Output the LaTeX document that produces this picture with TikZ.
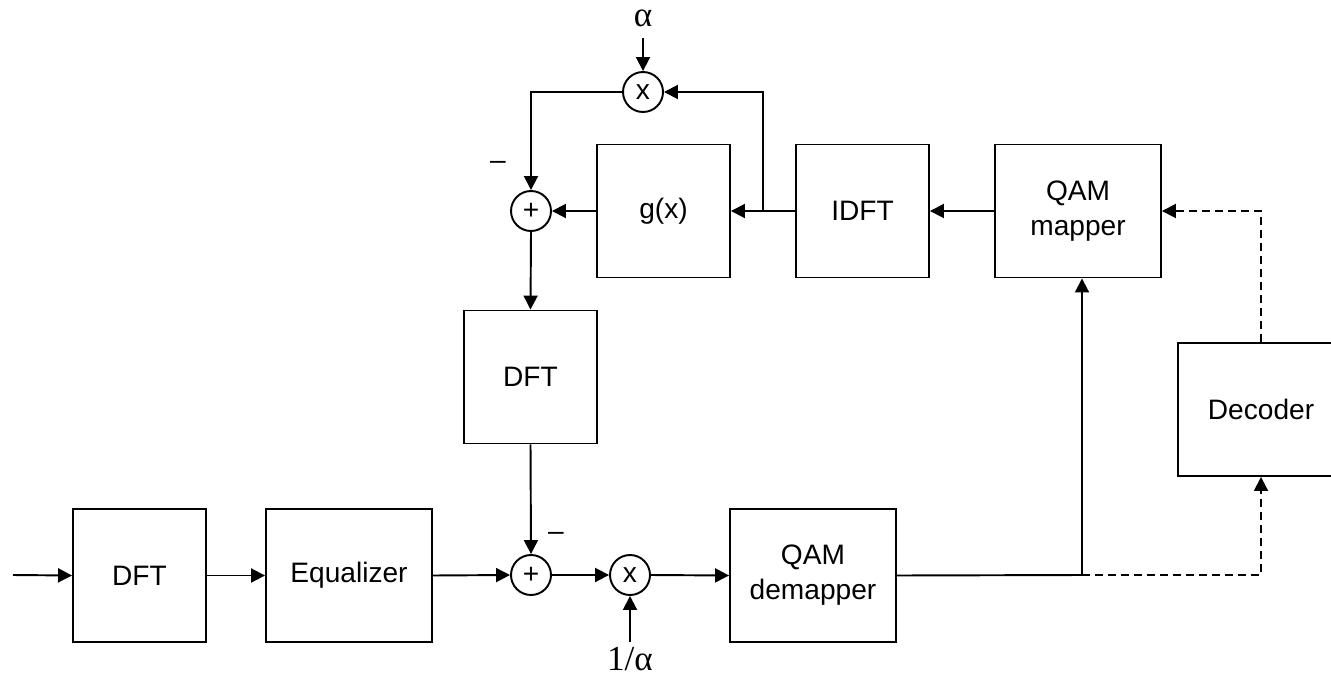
\documentclass[tikz,border=0pt]{standalone}
\usepackage{fontspec}
\setmainfont{Liberation Sans}
\newfontfamily\greekfont{Liberation Serif}
\usepackage{tikz}
\usetikzlibrary{arrows.meta}

\tikzset{
    blk/.style={draw, line width=1.1pt, minimum width=2.66cm, minimum height=2.66cm,
        inner sep=0pt, align=center, font=\fontsize{16}{20}\selectfont},
    wideblk/.style={blk, minimum width=3.32cm},
    junc/.style={draw, circle, line width=1.1pt, minimum size=0.8cm, inner sep=0pt,
        font=\fontsize{16}{19}\selectfont},
    wire/.style={line width=1.1pt, -{Triangle[length=0.28cm,width=0.28cm]}},
    dwire/.style={wire, dash pattern=on 0.16cm off 0.1cm},
    lbl/.style={inner sep=0pt, font=\greekfont\fontsize{20}{22}\selectfont}
}

\begin{document}
\begin{tikzpicture}[x=0.02cm, y=-0.02cm]
        \useasboundingbox (0,0) rectangle (1331,679);

        % Blocchi
        \node[blk] (dft1) at (139.5,575.5) {DFT};
        \node[wideblk] (eq) at (349,575.5) {Equalizer};
        \node[wideblk] (demap) at (813,575.5) {QAM\\demapper};
        \node[blk] (dft2) at (530.5,377) {DFT};
        \node[blk] (gx) at (663.5,211) {g(x)};
        \node[blk] (idft) at (862.5,211) {IDFT};
        \node[wideblk] (map) at (1078,211) {QAM\\mapper};
        \node[wideblk] (dec) at (1261,409.5) {Decoder};

        % Sommatori e moltiplicatori
        \node[junc] (sum1) at (531,575) {+};
        \node[junc] (mul1) at (630,575) {x};
        \node[junc] (sum2) at (531,211) {+};
        \node[junc] (mul2) at (643,92) {x};

        % Etichette
        \node[lbl] (alpha) at (643,18) {α};
        \node[lbl] (inva) at (630,659) {1/α};
        \node[font=\fontsize{16}{19}\selectfont] (m1) at (556,536) {–};
        \node[font=\fontsize{16}{19}\selectfont] (m2) at (498,165) {–};

        \coordinate (in) at (13,575);
        \coordinate (top) at (643,38);
        \coordinate (bot) at (630,642);
        \coordinate (br) at (1082,575);
        \coordinate (tap) at (763,211);

        % Catena principale
        \draw[wire] (in) -- (dft1.west);
        \draw[wire] (dft1.east) -- (eq.west);
        \draw[wire] (eq.east) -- (sum1.west);
        \draw[wire] (sum1.east) -- (mul1.west);
        \draw[wire] (mul1.east) -- (demap.west);
        \draw[wire] (bot) -- (mul1.south);
        \draw[line width=1.1pt] (demap.east) -- (br);
        \draw[wire] (br) -- (br |- map.south);
        \draw[dwire] (br) -| (dec.south);
        \draw[dwire] (dec.north) |- (map.east);

        % Anello superiore
        \draw[wire] (map.west) -- (idft.east);
        \draw[wire] (idft.west) -- (gx.east);
        \draw[wire] (tap) |- (mul2.east);
        \draw[wire] (gx.west) -- (sum2.east);
        \draw[wire] (mul2.west) -| (sum2.north);
        \draw[wire] (top) -- (mul2.north);
        \draw[wire] (sum2.south) -- (dft2.north);
        \draw[wire] (dft2.south) -- (sum1.north);
    \end{tikzpicture}
\end{document}
